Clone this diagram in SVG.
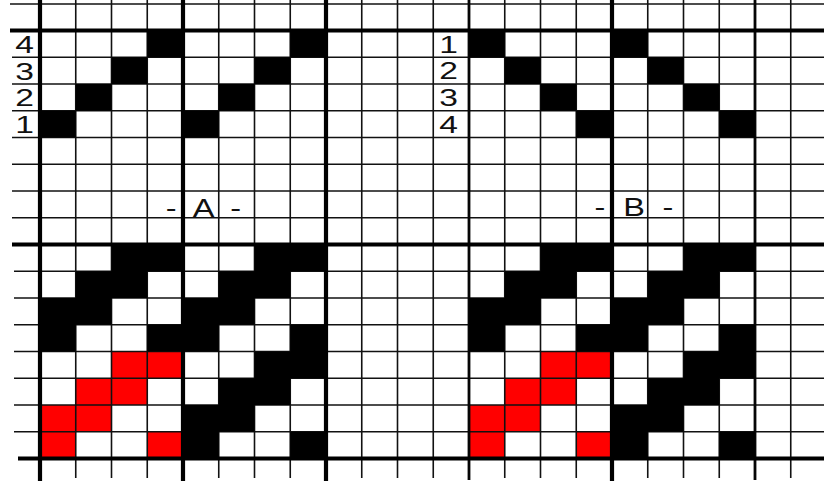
<svg xmlns="http://www.w3.org/2000/svg" xmlns:xlink="http://www.w3.org/1999/xlink" width="824" height="484" viewBox="0 0 824 484">
  <style>
    .bk { fill: #000000; }
    .rd { fill: #ff0000; }
    .thin { stroke: #111111; stroke-width: 1.6; fill: none; }
    .med { stroke: #050505; stroke-width: 2.8; fill: none; }
    .thick { stroke: #000000; stroke-width: 4.2; fill: none; }
    .lbl { font-family: "Liberation Sans", Arial, sans-serif; font-size: 24px; fill: #111; text-anchor: end; }
    .ttl { font-family: "Liberation Sans", Arial, sans-serif; font-size: 26px; fill: #111; text-anchor: middle; word-spacing: 7px; }
  </style>
  <defs>
    <g id="drawdown-red">
      <rect class="rd" x="71.5" y="107" width="71.5" height="26.75"/>
      <rect class="rd" x="35.75" y="133.75" width="71.5" height="26.75"/>
      <rect class="rd" x="0" y="160.5" width="71.5" height="26.75"/>
      <rect class="rd" x="0" y="187.25" width="35.75" height="26.75"/>
      <rect class="rd" x="107.25" y="187.25" width="35.75" height="26.75"/>
    </g>
    <path id="drawdown-black" class="bk" d="M71.5,0h71.5v26.75h-71.5z M214.5,0h71.5v26.75h-71.5z M35.75,26.75h71.5v26.75h-71.5z M178.75,26.75h71.5v26.75h-71.5z M0,53.5h71.5v26.75h-71.5z M143,53.5h71.5v26.75h-71.5z M0,80.25h35.75v26.75h-35.75z M107.25,80.25h71.5v26.75h-71.5z M250.25,80.25h35.75v26.75h-35.75z M214.5,107h71.5v26.75h-71.5z M178.75,133.75h71.5v26.75h-71.5z M143,160.5h71.5v26.75h-71.5z M143,187.25h35.75v26.75h-35.75z M250.25,187.25h35.75v26.75h-35.75z"/>
  </defs>
  <rect x="0" y="0" width="824" height="484" fill="#ffffff"/>

  <g id="drawdown-A-red">
    <use xlink:href="#drawdown-red" transform="translate(40,244.5)"/>
  </g>
  <g id="drawdown-B-red">
    <use xlink:href="#drawdown-red" transform="translate(469,244.5)"/>
  </g>

  <g id="grid">
    <line class="thin" x1="10" y1="4" x2="824" y2="4"/>
    <line class="thin" x1="12" y1="57.25" x2="824" y2="57.25"/>
    <line class="thin" x1="12" y1="84" x2="824" y2="84"/>
    <line class="thin" x1="12" y1="110.75" x2="824" y2="110.75"/>
    <line class="thin" x1="12" y1="137.5" x2="824" y2="137.5"/>
    <line class="thin" x1="12" y1="164.25" x2="824" y2="164.25"/>
    <line class="thin" x1="12" y1="191" x2="824" y2="191"/>
    <line class="thin" x1="12" y1="217.75" x2="824" y2="217.75"/>
    <line class="thin" x1="14" y1="271.25" x2="824" y2="271.25"/>
    <line class="thin" x1="14" y1="298" x2="824" y2="298"/>
    <line class="thin" x1="14" y1="324.75" x2="824" y2="324.75"/>
    <line class="thin" x1="14" y1="351.5" x2="824" y2="351.5"/>
    <line class="thin" x1="14" y1="378.25" x2="824" y2="378.25"/>
    <line class="thin" x1="14" y1="405" x2="824" y2="405"/>
    <line class="thin" x1="14" y1="431.75" x2="824" y2="431.75"/>

    <line class="thin" x1="75.75" y1="0" x2="75.75" y2="478"/>
    <line class="thin" x1="111.5" y1="0" x2="111.5" y2="478"/>
    <line class="thin" x1="147.25" y1="0" x2="147.25" y2="478"/>
    <line class="thin" x1="218.75" y1="0" x2="218.75" y2="478"/>
    <line class="thin" x1="254.5" y1="0" x2="254.5" y2="478"/>
    <line class="thin" x1="290.25" y1="0" x2="290.25" y2="478"/>
    <line class="thin" x1="361.75" y1="0" x2="361.75" y2="478"/>
    <line class="thin" x1="397.5" y1="0" x2="397.5" y2="478"/>
    <line class="thin" x1="433.25" y1="0" x2="433.25" y2="478"/>
    <line class="thin" x1="504.75" y1="0" x2="504.75" y2="478"/>
    <line class="thin" x1="540.5" y1="0" x2="540.5" y2="478"/>
    <line class="thin" x1="576.25" y1="0" x2="576.25" y2="478"/>
    <line class="thin" x1="647.75" y1="0" x2="647.75" y2="478"/>
    <line class="thin" x1="683.5" y1="0" x2="683.5" y2="478"/>
    <line class="thin" x1="719.25" y1="0" x2="719.25" y2="478"/>
    <line class="thin" x1="790.75" y1="0" x2="790.75" y2="478"/>

    <line class="med" x1="469" y1="0" x2="469" y2="480"/>
    <line class="med" x1="755" y1="0" x2="755" y2="480"/>

    <line class="thick" x1="40" y1="0" x2="40" y2="481"/>
    <line class="thick" x1="183" y1="0" x2="183" y2="481"/>
    <line class="thick" x1="326" y1="0" x2="326" y2="481"/>
    <line class="thick" x1="612" y1="0" x2="612" y2="481"/>

    <line class="thick" x1="10" y1="30.5" x2="824" y2="30.5"/>
    <line class="thick" x1="12" y1="244.5" x2="824" y2="244.5"/>
    <line class="thick" x1="18" y1="458.5" x2="824" y2="458.5"/>
  </g>

  <g id="threading-A">
    <path class="bk" d="M147.25,30.5h35.75v26.75h-35.75z M290.25,30.5h35.75v26.75h-35.75z M111.5,57.25h35.75v26.75h-35.75z M254.5,57.25h35.75v26.75h-35.75z M75.75,84h35.75v26.75h-35.75z M218.75,84h35.75v26.75h-35.75z M40,110.75h35.75v26.75h-35.75z M183,110.75h35.75v26.75h-35.75z"/>
  </g>
  <g id="threading-B">
    <path class="bk" d="M469,30.5h35.75v26.75h-35.75z M612,30.5h35.75v26.75h-35.75z M504.75,57.25h35.75v26.75h-35.75z M647.75,57.25h35.75v26.75h-35.75z M540.5,84h35.75v26.75h-35.75z M683.5,84h35.75v26.75h-35.75z M576.25,110.75h35.75v26.75h-35.75z M719.25,110.75h35.75v26.75h-35.75z"/>
  </g>
  <g id="drawdown-A-black">
    <use xlink:href="#drawdown-black" transform="translate(40,244.5)"/>
  </g>
  <g id="drawdown-B-black">
    <use xlink:href="#drawdown-black" transform="translate(469,244.5)"/>
  </g>

  <g id="labels-A">
    <text class="lbl" transform="translate(34,52.75) scale(1.4,1)">4</text>
    <text class="lbl" transform="translate(34,79.5) scale(1.4,1)">3</text>
    <text class="lbl" transform="translate(34,106.25) scale(1.4,1)">2</text>
    <text class="lbl" transform="translate(34,133) scale(1.4,1)">1</text>
    <text class="ttl" transform="translate(203.5,216.5) scale(1.25,1)">- A -</text>
  </g>
  <g id="labels-B">
    <text class="lbl" transform="translate(458,52.5) scale(1.4,1)">1</text>
    <text class="lbl" transform="translate(458,79.25) scale(1.4,1)">2</text>
    <text class="lbl" transform="translate(458,106) scale(1.4,1)">3</text>
    <text class="lbl" transform="translate(458,132.75) scale(1.4,1)">4</text>
    <text class="ttl" transform="translate(634,215.5) scale(1.25,1)">- B -</text>
  </g>
</svg>
